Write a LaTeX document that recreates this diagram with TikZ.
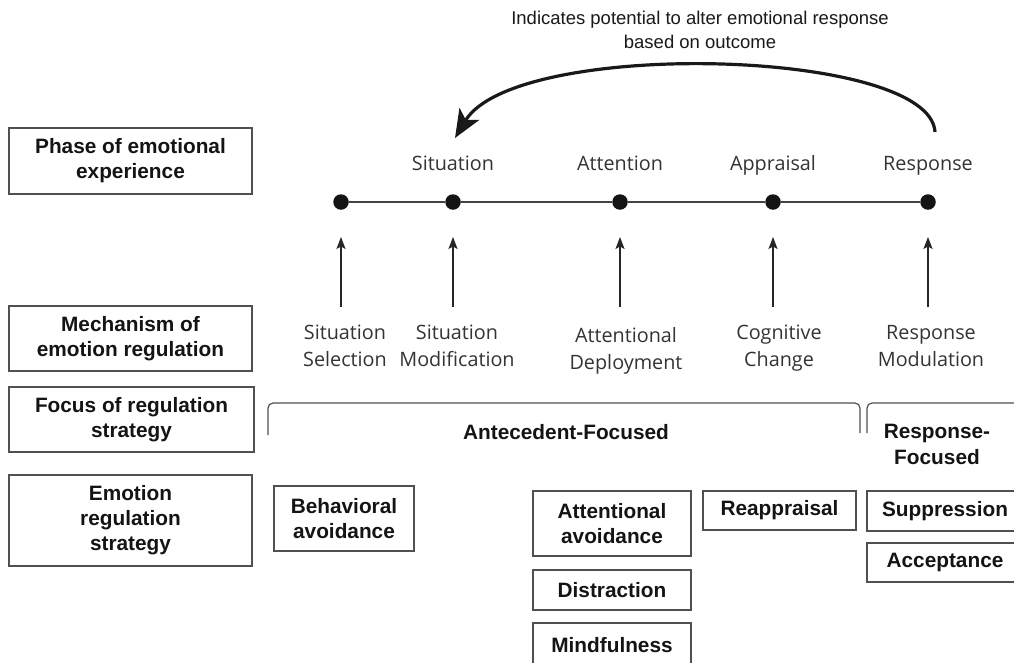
\documentclass[tikz,border=0pt]{standalone}
\usepackage{fontspec}
\setmainfont{Liberation Sans}
\newfontfamily\lightfont{Open Sans}
\usetikzlibrary{arrows.meta}
\definecolor{boxline}{HTML}{505050}
\definecolor{lighttext}{HTML}{333333}
\definecolor{linegray}{HTML}{444444}
\begin{document}
\begin{tikzpicture}[x=1pt,y=-1pt,
 box/.style={draw=boxline, line width=1.4pt, align=center, font=\fontsize{20.8}{25}\selectfont\bfseries, inner sep=0pt, text=black!92},
 plain/.style={align=center, font=\lightfont\fontsize{19.8}{27}\selectfont, text=lighttext, inner sep=0pt},
 boldlabel/.style={align=center, font=\fontsize{20.8}{26}\selectfont\bfseries, inner sep=0pt, text=black!92},
 toptext/.style={align=center, font=\fontsize{18.5}{24}\selectfont, inner sep=0pt, text=black!90},
 dot/.style={circle, fill=black!92, minimum size=15.5pt, inner sep=0pt},
 tline/.style={draw=linegray, line width=2.2pt},
 varrow/.style={draw=black!85, line width=1.8pt, -{Stealth[length=12pt,width=9pt,inset=2.5pt]}},
 bigarrow/.style={draw=black!90, line width=3.2pt, -{Stealth[length=28pt,width=23pt,inset=7pt]}},
 bracketline/.style={draw=boxline, line width=1.2pt, rounded corners=5pt}]

\useasboundingbox (0,0) rectangle (1014,662);
\clip (0,0) rectangle (1014,662);

% left category boxes
\node[box, minimum width=243pt, minimum height=66pt] (phase) at (130.5,161) {Phase of emotional\\experience};
\node[box, minimum width=243pt, minimum height=65pt] (mech) at (130.5,338.5) {Mechanism of\\emotion regulation};
\node[box, minimum width=245pt, minimum height=65pt] (focus) at (131.5,419.5) {Focus of regulation\\strategy};
\node[box, minimum width=243pt, minimum height=91pt] (ers) at (130.5,520.5) {Emotion\\regulation\\strategy};

% top note and curved arrow
\node[toptext] (note) at (700,30) {Indicates potential to alter emotional response\\based on outcome};
\coordinate (ctail) at (935,132);
\coordinate (ctip) at (455,138);
\draw[bigarrow] (ctail) .. controls (930,48) and (515,38) .. (ctip);

% phase labels
\node[plain, anchor=base] (pSit) at (453,170) {Situation};
\node[plain, anchor=base] (pAtt) at (620,170) {Attention};
\node[plain, anchor=base] (pApp) at (773,170) {Appraisal};
\node[plain, anchor=base] (pRes) at (928,170) {Response};

% timeline
\node[dot] (d1) at (341,202) {};
\node[dot] (d2) at (453,202) {};
\node[dot] (d3) at (620,202) {};
\node[dot] (d4) at (773,202) {};
\node[dot] (d5) at (928,202) {};
\draw[tline] (d1) -- (d2) -- (d3) -- (d4) -- (d5);

% mechanism labels
\node[plain] (m1) at (345,346) {Situation\\Selection};
\node[plain] (m2) at (457,346) {Situation\\Modification};
\node[plain] (m3) at (626,351) {Attentional\\Deployment};
\node[plain] (m4) at (779,348) {Cognitive\\Change};
\node[plain] (m5) at (931,346.5) {Response\\Modulation};

% vertical arrows
\coordinate (a1) at (341,307);
\coordinate (a2) at (453,307);
\coordinate (a3) at (620,307);
\coordinate (a4) at (773,307);
\coordinate (a5) at (928,307);
\foreach \i in {1,...,5}{
  \draw[varrow, shorten >=27pt] (a\i) -- (d\i);
}

% brackets
\coordinate (b1) at (268,435);
\coordinate (b2) at (268,403);
\coordinate (b3) at (860,403);
\coordinate (b4) at (860,433);
\draw[bracketline] (b1) -- (b2) -- (b3) -- (b4);
\coordinate (r1) at (867,433);
\coordinate (r2) at (867,403);
\coordinate (r3) at (1030,403);
\draw[bracketline] (r1) -- (r2) -- (r3);
\node[boldlabel] (ante) at (566,432) {Antecedent-Focused};
\node[boldlabel] (resp) at (937,444) {Response-\\Focused};

% strategy boxes
\node[box, minimum width=140pt, minimum height=65pt] (behav) at (344,518.5) {Behavioral\\avoidance};
\node[box, minimum width=158pt, minimum height=65pt] (attav) at (612,523.5) {Attentional\\avoidance};
\node[box, minimum width=158pt, minimum height=40pt] (distr) at (612,590) {Distraction};
\node[box, minimum width=158pt, minimum height=44pt] (mindf) at (612,645) {Mindfulness};
\node[box, minimum width=153pt, minimum height=39pt] (reap) at (779.5,510.5) {Reappraisal};
\node[box, minimum width=156pt, minimum height=40pt] (supp) at (945,511) {Suppression};
\node[box, minimum width=156pt, minimum height=39pt] (accept) at (945,562.5) {Acceptance};
\end{tikzpicture}
\end{document}
